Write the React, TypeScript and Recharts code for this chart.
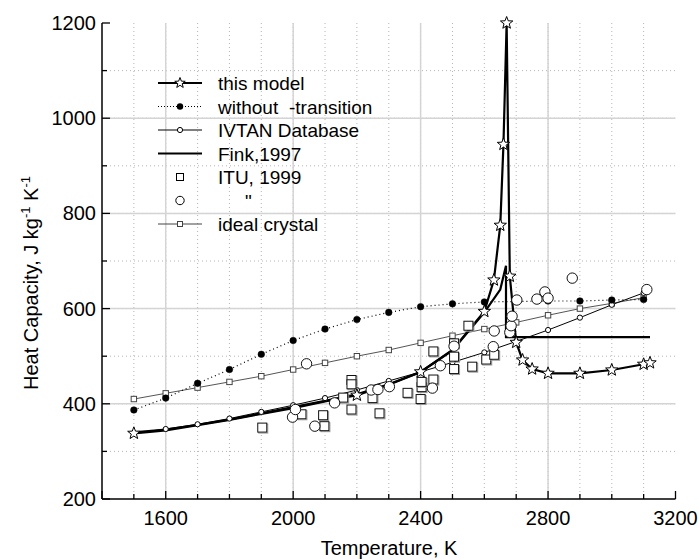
import { ComposedChart, Line, Scatter, XAxis, YAxis, CartesianGrid } from 'recharts';

const FONT = '"Liberation Sans", Arial, Helvetica, sans-serif';

// axis ticks
const xTicks = [1400, 1500, 1600, 1700, 1800, 1900, 2000, 2100, 2200, 2300, 2400, 2500, 2600, 2700, 2800, 2900, 3000, 3100, 3200];
const xLabels = [1600, 2000, 2400, 2800, 3200];
const xMajorGrid = [1600, 2000, 2400, 2800];
const yTicks = [200, 300, 400, 500, 600, 700, 800, 900, 1000, 1100, 1200];
const yLabels = [200, 400, 600, 800, 1000, 1200];
const yMajorGrid = [400, 600, 800, 1000];

// this model
const modelT = [1500, 1600, 1700, 1800, 1900, 2000, 2100, 2200, 2300, 2400, 2500, 2600, 2630, 2650, 2660, 2670, 2680, 2700, 2720, 2750, 2800, 2900, 3000, 3100, 3120];
const modelC = [338, 344, 355, 366, 379, 391, 405, 418, 440, 467, 513, 594, 660, 775, 945, 1200, 668, 529, 492, 473, 464, 464, 471, 483, 486];
const modelStars = [1500, 2200, 2400, 2600, 2630, 2650, 2660, 2670, 2680, 2700, 2720, 2750, 2800, 2900, 3000, 3100, 3120];

// without lambda-transition
const noTrT = [1500, 1600, 1700, 1800, 1900, 2000, 2100, 2200, 2300, 2400, 2500, 2600, 2700, 2800, 2900, 3000, 3100];
const noTrC = [387, 412, 443, 472, 504, 533, 557, 577, 592, 604, 610, 614, 615, 616, 616, 618, 619];

// IVTAN database
const ivtanT = [1500, 1600, 1700, 1800, 1900, 2000, 2100, 2200, 2300, 2400, 2500, 2600, 2700, 2800, 2900, 3000, 3100];
const ivtanC = [338, 347, 357, 369, 383, 397, 412, 429, 448, 467, 487, 508, 531, 555, 581, 608, 633];

// Fink, 1997
const finkT = [1500, 1600, 1700, 1800, 1900, 2000, 2100, 2200, 2300, 2400, 2500, 2600, 2650, 2668, 2668, 3120];
const finkC = [340, 346, 356, 367, 380, 393, 406, 420, 441, 467, 512, 592, 640, 690, 540, 540];

// ideal crystal
const idealT = [1500, 1600, 1700, 1800, 1900, 2000, 2100, 2200, 2300, 2400, 2500, 2600, 2700, 2800, 2900, 3000, 3100];
const idealC = [410, 422, 434, 446, 458, 472, 486, 500, 513, 528, 543, 557, 571, 586, 600, 611, 623];

// ITU, 1999 (squares)
const ituSqT = [1903, 2026, 2094, 2098, 2157, 2183, 2183, 2183, 2249, 2271, 2359, 2400, 2403, 2403, 2440, 2440, 2505, 2505, 2505, 2550, 2562, 2606, 2631];
const ituSqC = [350, 378, 376, 353, 413, 450, 441, 388, 412, 380, 423, 410, 435, 446, 451, 510, 473, 499, 527, 564, 478, 493, 503];

// ITU, 1999 (circles)
const ituCiT = [1998, 2007, 2042, 2068, 2130, 2245, 2266, 2302, 2437, 2462, 2505, 2628, 2631, 2680, 2684, 2687, 2702, 2765, 2790, 2800, 2876, 3110];
const ituCiC = [372, 388, 484, 353, 402, 429, 430, 436, 433, 480, 521, 520, 553, 550, 564, 584, 618, 620, 635, 622, 664, 640];

const pts = (ts: number[], cs: number[]) => ts.map((t, i) => ({ t, c: cs[i] }));

const modelData = modelT.map((t, i) => ({ t, c: modelC[i], star: modelStars.includes(t) }));
const noTrData = pts(noTrT, noTrC);
const ivtanData = pts(ivtanT, ivtanC);
const finkData = pts(finkT, finkC);
const idealData = pts(idealT, idealC);
const ituSqData = pts(ituSqT, ituSqC);
const ituCiData = pts(ituCiT, ituCiC);

function starPath(cx: number, cy: number, r: number) {
  const inner = r * 0.42;
  let d = '';
  for (let k = 0; k < 10; k++) {
    const rad = k % 2 === 0 ? r : inner;
    const a = -Math.PI / 2 + (k * Math.PI) / 5;
    d += (k === 0 ? 'M' : 'L') + (cx + rad * Math.cos(a)).toFixed(2) + ',' + (cy + rad * Math.sin(a)).toFixed(2);
  }
  return d + 'Z';
}

const modelDot = (p: any) => {
  const { cx, cy, payload, index } = p;
  if (!payload || !payload.star) return <g key={`m${index}`} />;
  return <path key={`m${index}`} d={starPath(cx, cy, 6.5)} fill="#fff" stroke="#000" strokeWidth={1} />;
};

const idealDot = (p: any) => (
  <rect key={`i${p.index}`} x={p.cx - 2.7} y={p.cy - 2.7} width={5.4} height={5.4} fill="#fff" stroke="#444" strokeWidth={1} />
);

const squareShape = (p: any) => (
  <g>
    <rect x={p.cx - 3.5} y={p.cy - 3.5} width={9} height={9} fill="none" stroke="#999" strokeWidth={1} />
    <rect x={p.cx - 4.5} y={p.cy - 4.5} width={9} height={9} fill="#fff" stroke="#111" strokeWidth={1} />
  </g>
);

const circleShape = (p: any) => <circle cx={p.cx} cy={p.cy} r={5.2} fill="#fff" stroke="#111" strokeWidth={1} />;

function BottomTick({ x, y, payload }: any) {
  const v = payload.value;
  const major = xLabels.includes(v) || v === 1400;
  return (
    <g>
      <line x1={x} y1={y} x2={x} y2={y - (major ? 8 : 5)} stroke="#000" strokeWidth={1.3} />
      {xLabels.includes(v) && (
        <text x={x} y={y + 26} textAnchor="middle" fontSize={20} fontFamily={FONT} fill="#000">
          {v}
        </text>
      )}
    </g>
  );
}

function TopTick({ x, y, payload }: any) {
  const major = xLabels.includes(payload.value);
  return <line x1={x} y1={y} x2={x} y2={y + (major ? 8 : 5)} stroke="#000" strokeWidth={1.3} />;
}

function LeftTick({ x, y, payload }: any) {
  const v = payload.value;
  const major = yLabels.includes(v);
  return (
    <g>
      <line x1={x} y1={y} x2={x + (major ? 8 : 5)} y2={y} stroke="#000" strokeWidth={1.3} />
      {major && (
        <text x={x - 6} y={y + 7} textAnchor="end" fontSize={20} fontFamily={FONT} fill="#000">
          {v}
        </text>
      )}
    </g>
  );
}

function RightTick({ x, y, payload }: any) {
  const major = yLabels.includes(payload.value);
  return <line x1={x} y1={y} x2={x - (major ? 8 : 5)} y2={y} stroke="#000" strokeWidth={1.3} />;
}

const legendRows = [83, 106.5, 130, 153.5, 177, 200.5, 224];

function Overlay() {
  const sx1 = 158;
  const sx2 = 202;
  const cx = 180;
  const tx = 218;
  const fs = 19;
  const r = legendRows;
  return (
    <svg width={699} height={559} style={{ position: 'absolute', left: 0, top: 0, pointerEvents: 'none' }}>
      {/* legend */}
      <line x1={sx1} y1={r[0]} x2={sx2} y2={r[0]} stroke="#000" strokeWidth={2.2} />
      <path d={starPath(cx, r[0], 5.5)} fill="#fff" stroke="#000" strokeWidth={1} />
      <line x1={sx1} y1={r[1]} x2={sx2} y2={r[1]} stroke="#000" strokeWidth={1} strokeDasharray="1 2" />
      <circle cx={cx} cy={r[1]} r={3.2} fill="#000" />
      <line x1={sx1} y1={r[2]} x2={sx2} y2={r[2]} stroke="#000" strokeWidth={1} />
      <circle cx={cx} cy={r[2]} r={2.6} fill="#fff" stroke="#000" strokeWidth={1} />
      <line x1={sx1} y1={r[3]} x2={sx2} y2={r[3]} stroke="#000" strokeWidth={2.2} />
      <rect x={cx - 3.5} y={r[4] - 3.5} width={7} height={7} fill="#fff" stroke="#000" strokeWidth={1} />
      <circle cx={cx} cy={r[5]} r={4.2} fill="#fff" stroke="#000" strokeWidth={1} />
      <line x1={sx1} y1={r[6]} x2={sx2} y2={r[6]} stroke="#444" strokeWidth={1} />
      <rect x={cx - 2.5} y={r[6] - 2.5} width={5} height={5} fill="#fff" stroke="#444" strokeWidth={1} />
      <g fontFamily={FONT} fontSize={fs} fill="#000">
        <text x={tx} y={r[0] + 7}>this model</text>
        <text x={tx} y={r[1] + 7}>without</text>
        <text x={289} y={r[1] + 7}>-transition</text>
        <text x={tx} y={r[2] + 7}>IVTAN Database</text>
        <text x={tx} y={r[3] + 7}>Fink,1997</text>
        <text x={tx} y={r[4] + 7}>ITU, 1999</text>
        <text x={245} y={r[5] + 7}>"</text>
        <text x={tx} y={r[6] + 7}>ideal crystal</text>
      </g>
      {/* axis titles */}
      <text x={389} y={555} textAnchor="middle" fontFamily={FONT} fontSize={20} fill="#000">
        Temperature, K
      </text>
      <text transform="translate(38,283) rotate(-90)" textAnchor="middle" fontFamily={FONT} fontSize={20} fill="#000">
        Heat Capacity, J kg
        <tspan fontSize={13} dy={-8}>-1</tspan>
        <tspan dy={8}> K</tspan>
        <tspan fontSize={13} dy={-8}>-1</tspan>
      </text>
    </svg>
  );
}

export default function App() {
  return (
    <div style={{ position: 'relative', width: 699, height: 559, background: '#fff' }}>
      <style>{'body{margin:0}'}</style>
      <ComposedChart width={699} height={559} margin={{ top: 23, right: 23.5, bottom: 0, left: 0 }}>
        <CartesianGrid
          verticalValues={xTicks.slice(1, -1)}
          horizontalValues={yTicks.slice(1, -1)}
          stroke="#b5b5b5"
          strokeDasharray="1 3"
          strokeWidth={1}
        />
        <CartesianGrid verticalValues={xMajorGrid} horizontalValues={yMajorGrid} stroke="#d4d4d4" strokeWidth={1.5} />
        <XAxis
          dataKey="t"
          type="number"
          domain={[1400, 3200]}
          ticks={xTicks}
          interval={0}
          height={60}
          tickSize={0}
          tickMargin={0}
          tickLine={false}
          axisLine={{ stroke: '#000', strokeWidth: 1.5 }}
          tick={<BottomTick />}
        />
        <XAxis
          xAxisId="top"
          orientation="top"
          dataKey="t"
          type="number"
          domain={[1400, 3200]}
          ticks={xTicks}
          interval={0}
          height={0}
          tickSize={0}
          tickMargin={0}
          tickLine={false}
          axisLine={{ stroke: '#000', strokeWidth: 1.5 }}
          tick={<TopTick />}
        />
        <YAxis
          type="number"
          domain={[200, 1200]}
          ticks={yTicks}
          interval={0}
          width={102}
          tickSize={0}
          tickMargin={0}
          tickLine={false}
          axisLine={{ stroke: '#000', strokeWidth: 1.5 }}
          tick={<LeftTick />}
        />
        <YAxis
          yAxisId="right"
          orientation="right"
          type="number"
          domain={[200, 1200]}
          ticks={yTicks}
          interval={0}
          width={0}
          tickSize={0}
          tickMargin={0}
          tickLine={false}
          axisLine={{ stroke: '#000', strokeWidth: 1.5 }}
          tick={<RightTick />}
        />
        <Line data={idealData} dataKey="c" stroke="#555" strokeWidth={1} dot={idealDot} activeDot={false} isAnimationActive={false} />
        <Line data={ivtanData} dataKey="c" stroke="#000" strokeWidth={1} dot={{ r: 2.6, fill: '#fff', stroke: '#000', strokeWidth: 1 }} activeDot={false} isAnimationActive={false} />
        <Line data={noTrData} dataKey="c" stroke="#000" strokeWidth={1.2} strokeDasharray="1 3" dot={{ r: 3.3, fill: '#000', stroke: '#000', strokeWidth: 0.5, strokeDasharray: '' }} activeDot={false} isAnimationActive={false} />
        <Scatter data={ituSqData} dataKey="c" shape={squareShape} isAnimationActive={false} />
        <Scatter data={ituCiData} dataKey="c" shape={circleShape} isAnimationActive={false} />
        <Line data={finkData} dataKey="c" stroke="#000" strokeWidth={2.2} dot={false} activeDot={false} isAnimationActive={false} />
        <Line data={modelData} dataKey="c" stroke="#000" strokeWidth={2.2} dot={modelDot} activeDot={false} isAnimationActive={false} />
      </ComposedChart>
      <Overlay />
    </div>
  );
}
